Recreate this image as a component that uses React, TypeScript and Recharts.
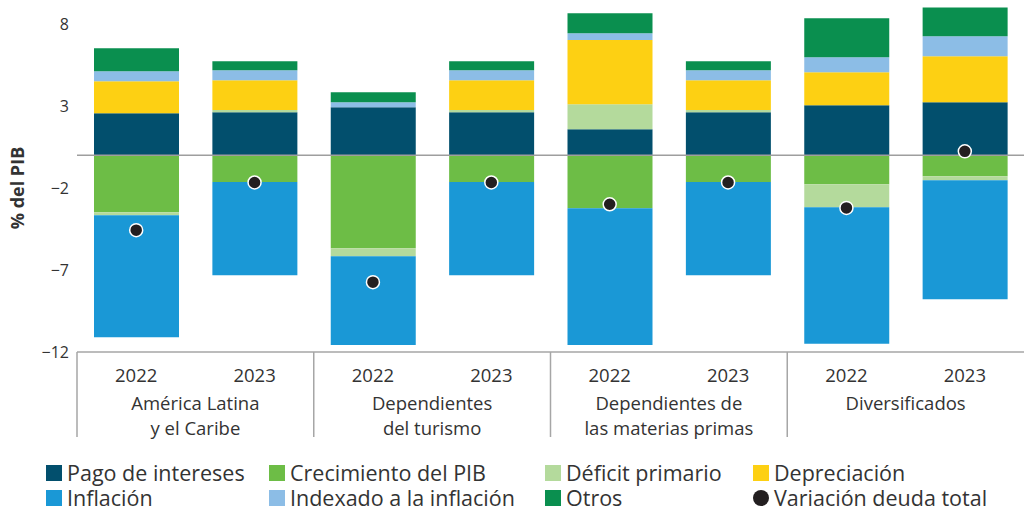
import React from "react";
import {
  ComposedChart,
  Bar,
  Line,
  XAxis,
  YAxis,
  ReferenceLine,
  Legend,
  Label,
} from "recharts";

const years = ["2022", "2023", "2022", "2023", "2022", "2023", "2022", "2023"];
const groupLabels = [
  ["América Latina", "y el Caribe"],
  ["Dependientes", "del turismo"],
  ["Dependientes de", "las materias primas"],
  ["Diversificados"],
];

const pagoIntereses = [2.56, 2.62, 2.93, 2.62, 1.59, 2.62, 3.05, 3.23];
const crecimientoPib = [-3.48, -1.63, -5.67, -1.63, -3.23, -1.63, -1.77, -1.28];
const deficitPrimario = [-0.18, 0.14, -0.49, 0.14, 1.52, 0.14, -1.4, -0.24];
const depreciacion = [1.95, 1.81, 0, 1.81, 3.92, 1.81, 2.01, 2.81];
const inflacion = [-7.44, -5.69, -5.41, -5.69, -8.34, -5.69, -8.33, -7.26];
const indexado = [0.61, 0.61, 0.3, 0.61, 0.41, 0.61, 0.92, 1.22];
const otros = [1.4, 0.55, 0.61, 0.55, 1.22, 0.55, 2.37, 1.76];
const variacionTotal = [-4.57, -1.66, -7.74, -1.66, -2.99, -1.66, -3.21, 0.24];

const yTicks = [-12, -7, -2, 3, 8];

const series = [
  { key: "pago", name: "Pago de intereses", color: "#024f6d" },
  { key: "crec", name: "Crecimiento del PIB", color: "#6dbd46" },
  { key: "deficit", name: "Déficit primario", color: "#b4da9c" },
  { key: "deprec", name: "Depreciación", color: "#fdd013" },
  { key: "infl", name: "Inflación", color: "#1a98d6" },
  { key: "index", name: "Indexado a la inflación", color: "#8cbde6" },
  { key: "otros", name: "Otros", color: "#0a8f4f" },
];
const dotColor = "#231f20";

const data = years.map((year, i) => ({
  id: i,
  year,
  pago: pagoIntereses[i],
  crec: crecimientoPib[i],
  deficit: deficitPrimario[i],
  deprec: depreciacion[i],
  infl: inflacion[i],
  index: indexado[i],
  otros: otros[i],
  total: variacionTotal[i],
}));

const FONT = "'Open Sans', sans-serif";
const TEXT = "#333333";
const RULE = "#a6a6a6";

const XTick = (props: any) => {
  const { x, y, payload, index } = props;
  const half = payload && payload.offset ? payload.offset : 0;
  const year = years[index] ?? "";
  const isFirst = index % 2 === 0;
  const lines = isFirst ? groupLabels[index / 2] : [];
  return (
    <g>
      <text x={x} y={y + 30} textAnchor="middle" fontSize={18.5} fill={TEXT} fontFamily={FONT}>
        {year}
      </text>
      {isFirst && (
        <line x1={x - half} x2={x - half} y1={y} y2={y + 85} stroke={RULE} strokeWidth={1.5} />
      )}
      {lines.map((t, k) => (
        <text
          key={k}
          x={x + half}
          y={y + 58 + k * 24.5}
          textAnchor="middle"
          fontSize={18.5}
          fill={TEXT}
          fontFamily={FONT}
        >
          {t}
        </text>
      ))}
    </g>
  );
};

const LegendContent = () => {
  const items = [
    ...series.map((s) => ({ name: s.name, color: s.color, round: false })),
    { name: "Variación deuda total", color: dotColor, round: true },
  ];
  return (
    <div
      style={{
        display: "grid",
        gridTemplateColumns: "223px 276px 208px auto",
        fontFamily: FONT,
        fontSize: 21.5,
        lineHeight: "25px",
        color: TEXT,
        whiteSpace: "nowrap",
      }}
    >
      {items.map((it) => (
        <div key={it.name} style={{ display: "flex", alignItems: "center" }}>
          <span
            style={{
              display: "inline-block",
              width: 16,
              height: 16,
              background: it.color,
              borderRadius: it.round ? 8 : 0,
              marginRight: 5,
            }}
          />
          {it.name}
        </div>
      ))}
    </div>
  );
};

export default function App() {
  return (
    <div style={{ position: "absolute", left: 0, top: 0, width: 1025, height: 510, background: "#fff" }}>
      <ComposedChart
        width={1025}
        height={510}
        data={data}
        stackOffset="sign"
        margin={{ top: 0, right: 1, bottom: 68, left: 0 }}
        style={{ fontFamily: FONT }}
      >
        <XAxis
          dataKey="id"
          height={90}
          tick={<XTick />}
          tickLine={false}
          tickSize={0}
          tickMargin={0}
          interval={0}
          axisLine={{ stroke: RULE, strokeWidth: 1.5 }}
        />
        <YAxis
          width={77}
          domain={[-12, 9.47]}
          ticks={yTicks}
          allowDataOverflow
          axisLine={false}
          tickLine={false}
          tickSize={0}
          tickMargin={8}
          tick={{ fontSize: 16, fill: TEXT, fontFamily: FONT }}
          tickFormatter={(v: number) => String(v).replace("-", "\u2212")}
        >
          <Label
            content={() => (
              <text
                x={17}
                y={188}
                transform="rotate(-90 17 188)"
                textAnchor="middle"
                dominantBaseline="central"
                fontSize={18}
                fontWeight={700}
                fill={TEXT}
                fontFamily={FONT}
              >
                % del PIB
              </text>
            )}
          />
        </YAxis>
        {series.map((s) => (
          <Bar
            key={s.key}
            dataKey={s.key}
            name={s.name}
            stackId="a"
            fill={s.color}
            barSize={85}
            isAnimationActive={false}
          />
        ))}
        <ReferenceLine y={0} stroke="#9e9e9e" strokeWidth={1.5} />
        <Line
          dataKey="total"
          name="Variación deuda total"
          stroke="none"
          dot={{ r: 6.5, fill: dotColor, stroke: "#ffffff", strokeWidth: 1.5 }}
          activeDot={false}
          isAnimationActive={false}
        />
        <Legend
          layout="horizontal"
          verticalAlign="middle"
          align="center"
          content={<LegendContent />}
          wrapperStyle={{ top: 460, left: 46, width: 979, height: 50 }}
        />
      </ComposedChart>
    </div>
  );
}
